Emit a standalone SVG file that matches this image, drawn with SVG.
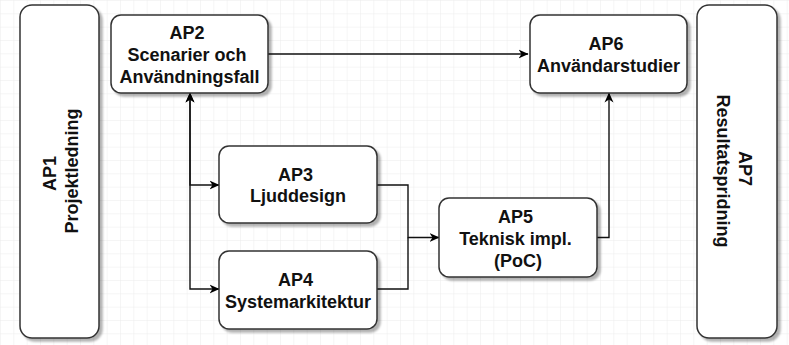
<svg xmlns="http://www.w3.org/2000/svg" width="789" height="345" viewBox="0 0 789 345">
  <defs>
    <pattern id="grid" width="13.333" height="13.333" patternUnits="userSpaceOnUse">
      <path d="M13.333,0 L0,0 L0,13.333" fill="none" stroke="#ececec" stroke-width="1"/>
    </pattern>
    <filter id="shadow" x="-10%" y="-10%" width="130%" height="130%">
      <feDropShadow dx="3" dy="3" stdDeviation="1.2" flood-color="#000" flood-opacity="0.3"/>
    </filter>
    <marker id="arrow" viewBox="0 0 10 10" refX="9.5" refY="5" markerWidth="10" markerHeight="10" markerUnits="userSpaceOnUse" orient="auto-start-reverse">
      <path d="M0,0.5 L10,5 L0,9.5 L3,5 Z" fill="#000"/>
    </marker>
    <style>
      .box { fill: #ffffff; stroke: #333333; stroke-width: 1.5; filter: url(#shadow); }
      .lbl { font-family: "Liberation Sans", Arial, sans-serif; font-size: 18px; font-weight: bold; fill: #111111; text-anchor: middle; }
      .edge { fill: none; stroke: #111111; stroke-width: 1.4; }
    </style>
  </defs>
  <rect x="0" y="0" width="789" height="345" fill="#ffffff"/>
  <rect x="0" y="0" width="789" height="345" fill="url(#grid)"/>

  <g id="connectors">
    <path class="edge" d="M268,54 L528,54" marker-end="url(#arrow)"/>
    <path class="edge" d="M190,93 L190,185 L219,185" marker-start="url(#arrow)" marker-end="url(#arrow)"/>
    <path class="edge" d="M190,93 L190,289 L219,289" marker-start="url(#arrow)" marker-end="url(#arrow)"/>
    <path class="edge" d="M377,185 L408,185 L408,237.5 L439,237.5" marker-end="url(#arrow)"/>
    <path class="edge" d="M377,289 L408,289 L408,237.5"/>
    <path class="edge" d="M597,237.5 L609,237.5 L609,93" marker-end="url(#arrow)"/>
  </g>

  <g id="AP1">
    <rect class="box" x="20" y="5" width="79" height="333" rx="12" ry="12"/>
    <text class="lbl" transform="translate(59.5,171) rotate(-90)">
      <tspan x="0" y="-4">AP1</tspan>
      <tspan x="0" y="18">Projektledning</tspan>
    </text>
  </g>

  <g id="AP2">
    <rect class="box" x="111" y="15" width="157" height="78" rx="10" ry="10"/>
    <text class="lbl">
      <tspan x="189.5" y="38.5">AP2</tspan>
      <tspan x="189.5" y="60.5">Scenarier och</tspan>
      <tspan x="189.5" y="82.5">Användningsfall</tspan>
    </text>
  </g>

  <g id="AP6">
    <rect class="box" x="530" y="15" width="157" height="78" rx="10" ry="10"/>
    <text class="lbl">
      <tspan x="608.5" y="50">AP6</tspan>
      <tspan x="608.5" y="72">Användarstudier</tspan>
    </text>
  </g>

  <g id="AP3">
    <rect class="box" x="219" y="146" width="158" height="77" rx="10" ry="10"/>
    <text class="lbl">
      <tspan x="298" y="180.5">AP3</tspan>
      <tspan x="298" y="202">Ljuddesign</tspan>
    </text>
  </g>

  <g id="AP4">
    <rect class="box" x="219" y="251" width="158" height="78" rx="10" ry="10"/>
    <text class="lbl">
      <tspan x="298" y="285.5">AP4</tspan>
      <tspan x="298" y="307.5">Systemarkitektur</tspan>
    </text>
  </g>

  <g id="AP5">
    <rect class="box" x="439" y="198" width="158" height="79" rx="10" ry="10"/>
    <text class="lbl">
      <tspan x="518" y="222.5">AP5</tspan>
      <tspan x="518" y="244.5">Teknisk impl.</tspan>
      <tspan x="518" y="266.5">(PoC)</tspan>
    </text>
  </g>

  <g id="AP7">
    <rect class="box" x="697" y="5" width="80" height="333" rx="12" ry="12"/>
    <text class="lbl" transform="translate(735,171) rotate(90)">
      <tspan x="0" y="-4">AP7</tspan>
      <tspan x="0" y="18">Resultatspridning</tspan>
    </text>
  </g>
</svg>
